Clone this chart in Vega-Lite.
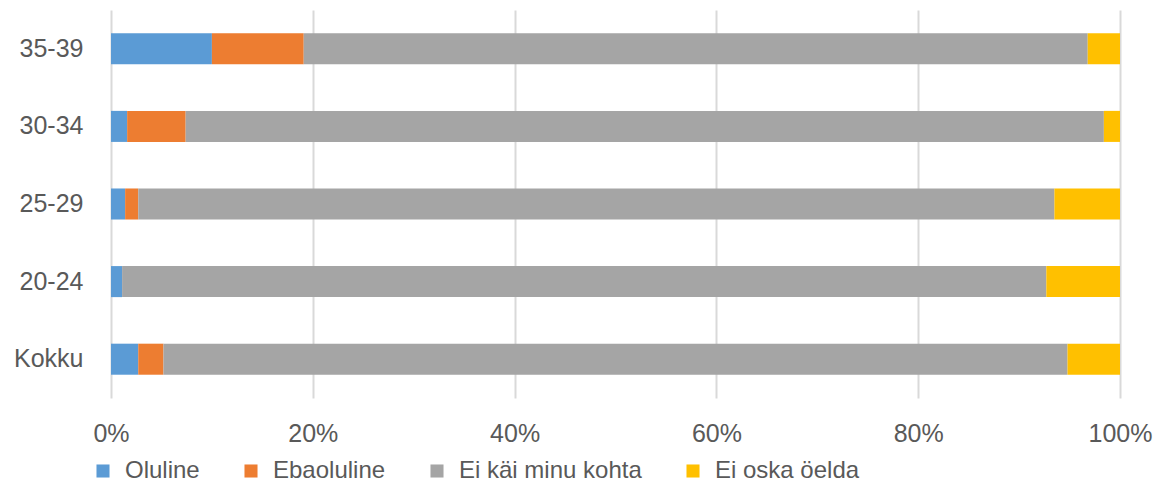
{
  "$schema": "https://vega.github.io/schema/vega-lite/v6.json",
  "width": 1009,
  "height": 388,
  "autosize": {"type": "none"},
  "padding": {"left": 111, "top": 10, "right": 40, "bottom": 88},
  "background": "white",
  "config": {
    "view": {"stroke": null},
    "font": "Liberation Sans"
  },
  "data": {
    "values": [
      {"group": "35-39", "answer": "Oluline", "k": 1, "value": 10.0},
      {"group": "35-39", "answer": "Ebaoluline", "k": 2, "value": 9.1},
      {"group": "35-39", "answer": "Ei käi minu kohta", "k": 3, "value": 77.7},
      {"group": "35-39", "answer": "Ei oska öelda", "k": 4, "value": 3.2},
      {"group": "30-34", "answer": "Oluline", "k": 1, "value": 1.6},
      {"group": "30-34", "answer": "Ebaoluline", "k": 2, "value": 5.8},
      {"group": "30-34", "answer": "Ei käi minu kohta", "k": 3, "value": 91.0},
      {"group": "30-34", "answer": "Ei oska öelda", "k": 4, "value": 1.6},
      {"group": "25-29", "answer": "Oluline", "k": 1, "value": 1.4},
      {"group": "25-29", "answer": "Ebaoluline", "k": 2, "value": 1.3},
      {"group": "25-29", "answer": "Ei käi minu kohta", "k": 3, "value": 90.8},
      {"group": "25-29", "answer": "Ei oska öelda", "k": 4, "value": 6.5},
      {"group": "20-24", "answer": "Oluline", "k": 1, "value": 1.1},
      {"group": "20-24", "answer": "Ebaoluline", "k": 2, "value": 0.0},
      {"group": "20-24", "answer": "Ei käi minu kohta", "k": 3, "value": 91.6},
      {"group": "20-24", "answer": "Ei oska öelda", "k": 4, "value": 7.3},
      {"group": "Kokku", "answer": "Oluline", "k": 1, "value": 2.7},
      {"group": "Kokku", "answer": "Ebaoluline", "k": 2, "value": 2.5},
      {"group": "Kokku", "answer": "Ei käi minu kohta", "k": 3, "value": 89.6},
      {"group": "Kokku", "answer": "Ei oska öelda", "k": 4, "value": 5.2}
    ]
  },
  "mark": {"type": "bar"},
  "encoding": {
    "y": {
      "field": "group",
      "type": "nominal",
      "sort": ["35-39", "30-34", "25-29", "20-24", "Kokku"],
      "scale": {"paddingInner": 0.6, "paddingOuter": 0.3},
      "axis": {
        "title": null,
        "domain": false,
        "ticks": false,
        "grid": false,
        "labelPadding": 28,
        "labelFontSize": 25,
        "labelColor": "#595959",
        "labelFont": "Liberation Sans"
      }
    },
    "x": {
      "field": "value",
      "type": "quantitative",
      "stack": "zero",
      "scale": {"domain": [0, 100], "nice": false},
      "axis": {
        "title": null,
        "values": [0, 20, 40, 60, 80, 100],
        "labelExpr": "datum.value + '%'",
        "domain": false,
        "ticks": false,
        "grid": true,
        "gridColor": "#d9d9d9",
        "gridWidth": 2,
        "labelPadding": 23,
        "labelFontSize": 25,
        "labelColor": "#595959",
        "labelFont": "Liberation Sans",
        "labelFlush": false
      }
    },
    "color": {
      "field": "answer",
      "type": "nominal",
      "scale": {
        "domain": ["Oluline", "Ebaoluline", "Ei käi minu kohta", "Ei oska öelda"],
        "range": ["#5B9BD5", "#ED7D31", "#A5A5A5", "#FFC000"]
      },
      "legend": {
        "title": null,
        "orient": "none",
        "direction": "horizontal",
        "legendX": -20,
        "legendY": 449,
        "symbolType": "square",
        "symbolSize": 170,
        "symbolStrokeWidth": 0,
        "symbolOpacity": 1,
        "labelFontSize": 24,
        "labelLimit": 0,
        "labelColor": "#595959",
        "labelFont": "Liberation Sans",
        "labelOffset": 10,
        "columnPadding": 39
      }
    },
    "order": {"field": "k", "type": "quantitative"}
  }
}
